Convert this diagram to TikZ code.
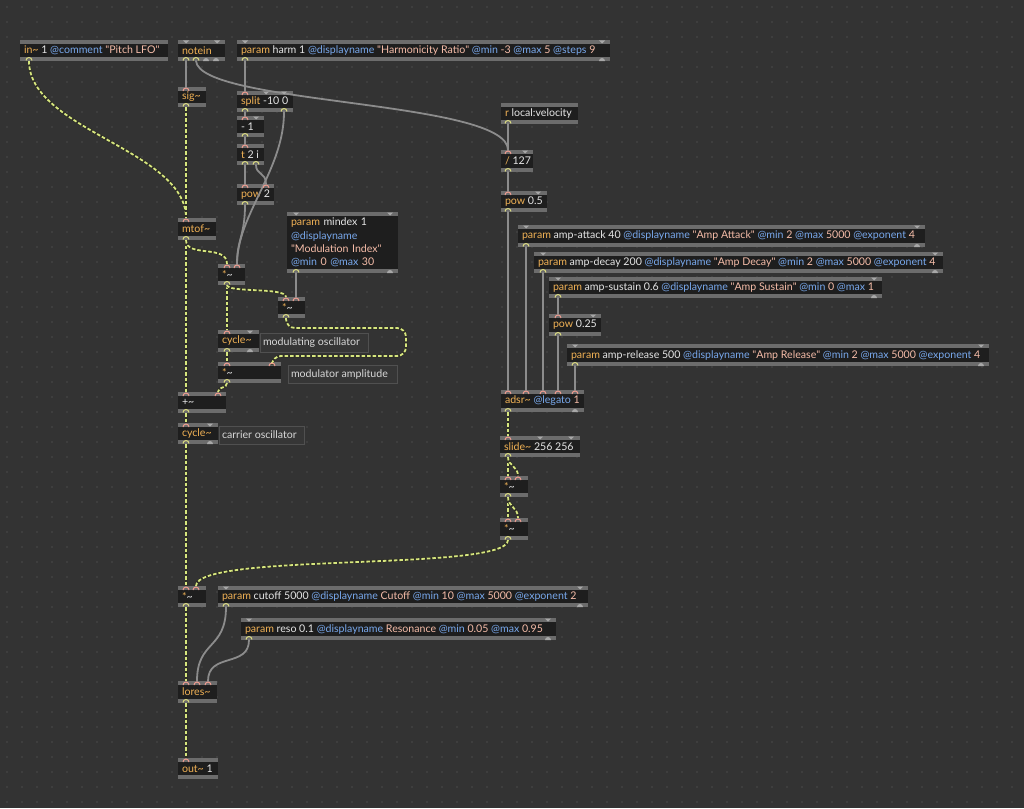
\documentclass[tikz,border=0pt]{standalone}
\usepackage{fontspec}
\setmainfont{Lato}
\usetikzlibrary{calc}
\pgfdeclarelayer{fg}
\pgfsetlayers{main,fg}
\definecolor{bg}{HTML}{333333}
\definecolor{dotc}{HTML}{4A4A4A}
\definecolor{strip}{HTML}{6C6C6C}
\definecolor{bodyc}{HTML}{1E1E1E}
\definecolor{mxorange}{HTML}{F0B155}
\definecolor{mxwhite}{HTML}{E6E6E6}
\definecolor{mxblue}{HTML}{78A8EC}
\definecolor{mxpink}{HTML}{F5BCA8}
\definecolor{cablegray}{HTML}{8C8C8C}
\definecolor{sigyel}{HTML}{D6E67E}
\definecolor{sigdark}{HTML}{2E2E26}
\definecolor{inletc}{HTML}{EE9C90}
\definecolor{outletc}{HTML}{DCDC80}
\definecolor{portg}{HTML}{A8A8A8}
\definecolor{cmtborder}{HTML}{505050}
\definecolor{cmtfill}{HTML}{363636}
\definecolor{cmttext}{HTML}{D8D8D8}
\newcommand\mxfont{\fontsize{10.6}{13.3}\selectfont}
\newcommand\mxo[1]{\textcolor{mxorange}{#1}}
\newcommand\mxa[1]{\textcolor{mxwhite}{#1}}
\newcommand\mxt[1]{\textcolor{mxblue}{#1}}
\newcommand\mxv[1]{\textcolor{mxpink}{#1}}
\newcommand\tld{\textasciitilde}
\newcommand\qq{\textquotedbl}
\tikzset{
  obj/.style={anchor=north west, inner xsep=4pt, inner ysep=0pt, outer sep=0pt,
    fill=strip, text=mxwhite, font=\mxfont,
    path picture={\fill[bodyc] ([yshift=-4pt]path picture bounding box.north west) rectangle ([yshift=4pt]path picture bounding box.south east);}},
  cmt/.style={anchor=north west, inner xsep=3pt, inner ysep=0pt, outer sep=0pt,
    fill=cmtfill, draw=cmtborder, line width=1pt, text=cmttext, font=\mxfont},
  gcable/.style={draw=cablegray, line width=1.8pt, line cap=round},
  scable/.style={draw=sigdark, line width=3pt,
    postaction={draw=sigyel, line width=1.8pt, dash pattern=on 3.5pt off 2pt}},
}
\newcommand\mobj[6]{\node[obj, minimum height=#5pt] (#1) at (#2,#3) {\makebox[\dimexpr#4pt-8pt\relax][l]{#6}};}
\newcommand\mcmt[6]{\node[cmt, minimum height=#5pt] (#1) at (#2,#3) {\makebox[\dimexpr#4pt-7pt\relax][l]{#6}};}
\newcommand\pin[3]{\coordinate (#1-i#2) at ($(#1.north west)+(#3,0)$);%
  \begin{pgfonlayer}{fg}\draw[inletc,line width=1pt] ($(#1.north west)+(#3+3,4)$) arc[start angle=0,end angle=-180,radius=3];\end{pgfonlayer}}
\newcommand\pout[3]{\coordinate (#1-o#2) at ($(#1.south west)+(#3,0)$);%
  \begin{pgfonlayer}{fg}\draw[outletc,line width=1pt] ($(#1.south west)+(#3+3,-0.5)$) arc[start angle=0,end angle=-180,radius=3];\end{pgfonlayer}}
\newcommand\uin[2]{\begin{pgfonlayer}{fg}\fill[portg] ($(#1.north west)+(#2-3,0.5)$) -- ++(6,0) -- ++(-3,3) -- cycle;\end{pgfonlayer}}
\newcommand\uout[2]{\begin{pgfonlayer}{fg}\fill[portg] ($(#1.south west)+(#2+3,0)$) arc[start angle=0,end angle=-180,radius=3] -- cycle;\end{pgfonlayer}}
\begin{document}
\begin{tikzpicture}[x=1pt,y=-1pt]
\useasboundingbox (0,0) rectangle (1024,808);
\fill[bg] (0,0) rectangle (1024,808);
\foreach \i in {0,...,68}{\foreach \j in {0,...,53}{\fill[dotc] (7+\i*15,7+\j*15) circle[radius=0.8];}}

% ---------- objects ----------
\mobj{in1}{20}{40}{148}{21}{\mxo{in\tld} \mxa{1} \mxt{@comment} \mxv{\qq Pitch LFO\qq}}
\mobj{notein}{178}{40}{47}{21}{\mxo{notein}}
\mobj{harm}{237}{40}{373}{21}{\mxo{param} \mxa{harm 1} \mxt{@displayname} \mxv{\qq Harmonicity Ratio\qq} \mxt{@min} \mxv{-3} \mxt{@max} \mxv{5} \mxt{@steps} \mxv{9}}
\mobj{sig}{178}{87}{28}{20}{\mxo{sig\tld}}
\mobj{split}{237}{91}{56}{21}{\mxo{split} \mxa{-10 0}}
\mobj{minus}{237}{116}{27}{21}{\mxa{- 1}}
\mobj{trig}{237}{144}{27}{21}{\mxo{t} \mxa{2 i}}
\mobj{powtwo}{237}{184}{37}{21}{\mxo{pow} \mxa{2}}
\mobj{rvel}{501}{103}{77}{21}{\mxo{r} \mxa{local:velocity}}
\mobj{div}{501}{150}{32}{22}{\mxo{/} \mxa{127}}
\mobj{powhalf}{501}{191}{46}{21}{\mxo{pow} \mxa{0.5}}
\mobj{mtof}{178}{218}{38}{22}{\mxo{mtof\tld}}
\node[obj, text width=103pt, align=left, minimum height=61pt] (mindex) at (287,212)
  {\mxo{param} \mxa{mindex 1}\\\mxt{@displayname}\\\mxv{\qq Modulation Index\qq}\\\mxt{@min} \mxv{0} \mxt{@max} \mxv{30}};
\mobj{mulA}{218}{264}{27}{21}{\mxo{*}\mxa{\tld}}
\mobj{mulB}{278}{297}{27}{21}{\mxo{*}\mxa{\tld}}
\mobj{cycmod}{218}{330}{41}{22}{\mxo{cycle\tld}}
\mcmt{cmtA}{260}{333}{109}{19}{modulating oscillator}
\mobj{mulC}{218}{362}{63}{21}{\mxo{*}\mxa{\tld}}
\mcmt{cmtB}{288}{365}{110}{18}{modulator amplitude}
\mobj{plus}{178}{392}{48}{21}{\mxa{+\tld}}
\mobj{cyccar}{178}{423}{40}{21}{\mxo{cycle\tld}}
\mcmt{cmtC}{219}{426}{86}{18}{carrier oscillator}
\mobj{attack}{518}{225}{407}{22}{\mxo{param} \mxa{amp-attack 40} \mxt{@displayname} \mxv{\qq Amp Attack\qq} \mxt{@min} \mxv{2} \mxt{@max} \mxv{5000} \mxt{@exponent} \mxv{4}}
\mobj{decay}{534}{252}{409}{21}{\mxo{param} \mxa{amp-decay 200} \mxt{@displayname} \mxv{\qq Amp Decay\qq} \mxt{@min} \mxv{2} \mxt{@max} \mxv{5000} \mxt{@exponent} \mxv{4}}
\mobj{sustain}{549}{277}{333}{21}{\mxo{param} \mxa{amp-sustain 0.6} \mxt{@displayname} \mxv{\qq Amp Sustain\qq} \mxt{@min} \mxv{0} \mxt{@max} \mxv{1}}
\mobj{powq}{549}{314}{52}{22}{\mxo{pow} \mxa{0.25}}
\mobj{release}{567}{344}{422}{22}{\mxo{param} \mxa{amp-release 500} \mxt{@displayname} \mxv{\qq Amp Release\qq} \mxt{@min} \mxv{2} \mxt{@max} \mxv{5000} \mxt{@exponent} \mxv{4}}
\mobj{adsr}{501}{390}{83}{22}{\mxo{adsr\tld} \mxt{@legato} \mxv{1}}
\mobj{slide}{500}{436}{80}{21}{\mxo{slide\tld} \mxa{256 256}}
\mobj{mulD}{500}{476}{28}{21}{\mxo{*}\mxa{\tld}}
\mobj{mulE}{500}{518}{28}{22}{\mxo{*}\mxa{\tld}}
\mobj{mulF}{178}{586}{28}{21}{\mxo{*}\mxa{\tld}}
\mobj{cutoff}{218}{586}{370}{21}{\mxo{param} \mxa{cutoff 5000} \mxt{@displayname} \mxv{Cutoff} \mxt{@min} \mxv{10} \mxt{@max} \mxv{5000} \mxt{@exponent} \mxv{2}}
\mobj{reso}{241}{618}{315}{22}{\mxo{param} \mxa{reso 0.1} \mxt{@displayname} \mxv{Resonance} \mxt{@min} \mxv{0.05} \mxt{@max} \mxv{0.95}}
\mobj{lores}{178}{681}{39}{22}{\mxo{lores\tld}}
\mobj{out}{178}{758}{40}{21}{\mxo{out\tld} \mxa{1}}

% ---------- ports ----------
\pout{in1}{0}{9}
\uin{notein}{8}\uin{notein}{39}
\pout{notein}{0}{8}\pout{notein}{1}{18}\uout{notein}{28}\uout{notein}{38}
\uin{harm}{8}\uin{harm}{365}\pout{harm}{0}{8}\uout{harm}{365}
\pin{sig}{0}{8}\pout{sig}{0}{8}
\pin{split}{0}{8}\uin{split}{29}\uin{split}{47}\pout{split}{0}{8}\pout{split}{1}{47}
\pin{minus}{0}{8}\uin{minus}{19}\pout{minus}{0}{8}
\pin{trig}{0}{8}\pout{trig}{0}{8}\pout{trig}{1}{19}
\pin{powtwo}{0}{8}\pin{powtwo}{1}{29}\pout{powtwo}{0}{8}
\pout{rvel}{0}{7}
\pin{div}{0}{7}\uin{div}{24}\pout{div}{0}{7}
\pin{powhalf}{0}{7}\uin{powhalf}{37}\pout{powhalf}{0}{7}
\pin{mtof}{0}{8}\pout{mtof}{0}{8}
\uin{mindex}{9}\uin{mindex}{103}\pout{mindex}{0}{9}\uout{mindex}{103}
\pin{mulA}{0}{9}\pin{mulA}{1}{19}\pout{mulA}{0}{9}
\pin{mulB}{0}{8}\pin{mulB}{1}{18}\pout{mulB}{0}{8}
\pin{cycmod}{0}{9}\uin{cycmod}{32}\pout{cycmod}{0}{9}\uout{cycmod}{32}
\pin{mulC}{0}{9}\pin{mulC}{1}{54}\pout{mulC}{0}{9}
\pin{plus}{0}{8}\pin{plus}{1}{40}\pout{plus}{0}{8}
\pin{cyccar}{0}{8}\uin{cyccar}{32}\pout{cyccar}{0}{8}\uout{cyccar}{32}
\uin{attack}{8}\uin{attack}{399}\pout{attack}{0}{8}\uout{attack}{399}
\uin{decay}{9}\uin{decay}{401}\pout{decay}{0}{9}\uout{decay}{401}
\uin{sustain}{9}\uin{sustain}{325}\pout{sustain}{0}{9}\uout{sustain}{325}
\pin{powq}{0}{9}\uin{powq}{44}\pout{powq}{0}{9}
\uin{release}{8}\uin{release}{414}\pout{release}{0}{8}\uout{release}{414}
\pin{adsr}{0}{7}\pin{adsr}{1}{25}\pin{adsr}{2}{42}\pin{adsr}{3}{57}\pin{adsr}{4}{74}
\pout{adsr}{0}{7}\uout{adsr}{74}
\pin{slide}{0}{8}\uin{slide}{40}\uin{slide}{71}\pout{slide}{0}{8}
\pin{mulD}{0}{8}\pin{mulD}{1}{18}\pout{mulD}{0}{8}
\pin{mulE}{0}{8}\pin{mulE}{1}{18}\pout{mulE}{0}{8}
\pin{mulF}{0}{8}\pin{mulF}{1}{18}\pout{mulF}{0}{8}
\uin{cutoff}{8}\uin{cutoff}{362}\pout{cutoff}{0}{8}\uout{cutoff}{362}
\uin{reso}{8}\uin{reso}{307}\pout{reso}{0}{8}\uout{reso}{307}
\pin{lores}{0}{8}\pin{lores}{1}{19}\pin{lores}{2}{30}\pout{lores}{0}{8}
\pin{out}{0}{8}

% ---------- control cables ----------
\draw[gcable] (notein-o0) -- (sig-i0);
\draw[gcable] (notein-o1) .. controls (200,105) and (508,100) .. (div-i0);
\draw[gcable] (harm-o0) -- (split-i0);
\draw[gcable] (split-o0) -- (minus-i0);
\draw[gcable] (minus-o0) -- (trig-i0);
\draw[gcable] (trig-o0) -- (powtwo-i0);
\draw[gcable] (trig-o1) .. controls (256,175) and (266,172) .. (powtwo-i1);
\draw[gcable] (split-o1) .. controls (284,170) and (237,215) .. (mulA-i1);
\draw[gcable] (powtwo-o0) .. controls (245,235) and (237,240) .. (mulA-i1);
\draw[gcable] (mindex-o0) -- (mulB-i1);
\draw[gcable] (rvel-o0) -- (div-i0);
\draw[gcable] (div-o0) -- (powhalf-i0);
\draw[gcable] (powhalf-o0) -- (adsr-i0);
\draw[gcable] (attack-o0) -- (adsr-i1);
\draw[gcable] (decay-o0) -- (adsr-i2);
\draw[gcable] (sustain-o0) -- (powq-i0);
\draw[gcable] (powq-o0) -- (adsr-i3);
\draw[gcable] (release-o0) -- (adsr-i4);
\draw[gcable] (cutoff-o0) .. controls (226,650) and (197,640) .. (lores-i1);
\draw[gcable] (reso-o0) .. controls (249,668) and (208,652) .. (lores-i2);

% ---------- signal cables ----------
\draw[scable] (in1-o0) .. controls (29,130) and (186,150) .. (mtof-i0);
\draw[scable] (sig-o0) -- (mtof-i0);
\draw[scable] (mtof-o0) -- (plus-i0);
\draw[scable] (mtof-o0) .. controls (186,258) and (227,244) .. (mulA-i0);
\draw[scable] (mulA-o0) -- (cycmod-i0);
\draw[scable] (mulA-o0) .. controls (227,293) and (286,287) .. (mulB-i0);
\draw[scable, rounded corners=9pt] (mulB-o0) -- (286,328) -- (406,328) -- (406,356) -- (272,356) -- (mulC-i1);
\draw[scable] (cycmod-o0) -- (mulC-i0);
\draw[scable] (mulC-o0) .. controls (227,389) and (218,386) .. (plus-i1);
\draw[scable] (plus-o0) -- (cyccar-i0);
\draw[scable] (cyccar-o0) -- (mulF-i0);
\draw[scable] (adsr-o0) -- (slide-i0);
\draw[scable] (slide-o0) -- (mulD-i0);
\draw[scable] (slide-o0) .. controls (508,466) and (518,466) .. (mulD-i1);
\draw[scable] (mulD-o0) -- (mulE-i0);
\draw[scable] (mulD-o0) .. controls (508,507) and (518,507) .. (mulE-i1);
\draw[scable] (mulE-o0) .. controls (508,572) and (196,552) .. (mulF-i1);
\draw[scable] (mulF-o0) -- (lores-i0);
\draw[scable] (lores-o0) -- (out-i0);
\end{tikzpicture}
\end{document}
